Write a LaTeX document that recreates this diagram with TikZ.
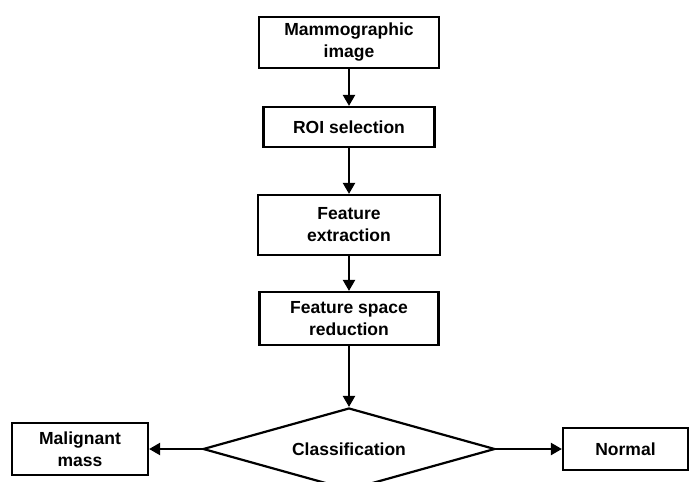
\documentclass[tikz,border=0pt]{standalone}
\usepackage{fontspec}
\setmainfont{Liberation Sans}
\usetikzlibrary{shapes.geometric,arrows.meta}
\begin{document}
\begin{tikzpicture}[x=1pt,y=-1pt,
  every node/.style={font=\bfseries\fontsize{17.5}{22}\selectfont, align=center, inner sep=0pt},
  stepbox/.style={draw, line width=2.2pt, rectangle},
  decision/.style={draw, line width=2.2pt, diamond, aspect=3.5},
  flow/.style={line width=2.2pt, -{Triangle[length=11pt,width=12pt]}}]
  \useasboundingbox (0,0) rectangle (691,482);
  \fill[white] (0,0) rectangle (691,482);
  \clip (0,0) rectangle (691,482);

  % main pipeline
  \node[stepbox, minimum width=180pt, minimum height=51pt] (img) at (349,42.5) {Mammographic\\image};
  \node[stepbox, minimum width=171pt, minimum height=40pt] (roi) at (349,127) {ROI selection};
  \node[stepbox, minimum width=182pt, minimum height=60pt] (feat) at (349,225) {Feature\\extraction};
  \node[stepbox, minimum width=179pt, minimum height=53pt] (red) at (349,318.5) {Feature space\\reduction};

  % decision and outcomes
  \node[decision, minimum width=292pt, minimum height=82pt] (cls) at (349,449) {Classification};
  \node[stepbox, minimum width=136pt, minimum height=52pt] (mal) at (80,449) {Malignant\\mass};
  \node[stepbox, minimum width=125pt, minimum height=42pt] (norm) at (625.5,449) {Normal};

  % connectors
  \draw[flow] (img.south) -- (roi.north);
  \draw[flow] (roi.south) -- (feat.north);
  \draw[flow] (feat.south) -- (red.north);
  \draw[flow] (red.south) -- (cls.north);
  \draw[flow] (cls.west) -- (mal.east);
  \draw[flow] (cls.east) -- (norm.west);
\end{tikzpicture}
\end{document}
